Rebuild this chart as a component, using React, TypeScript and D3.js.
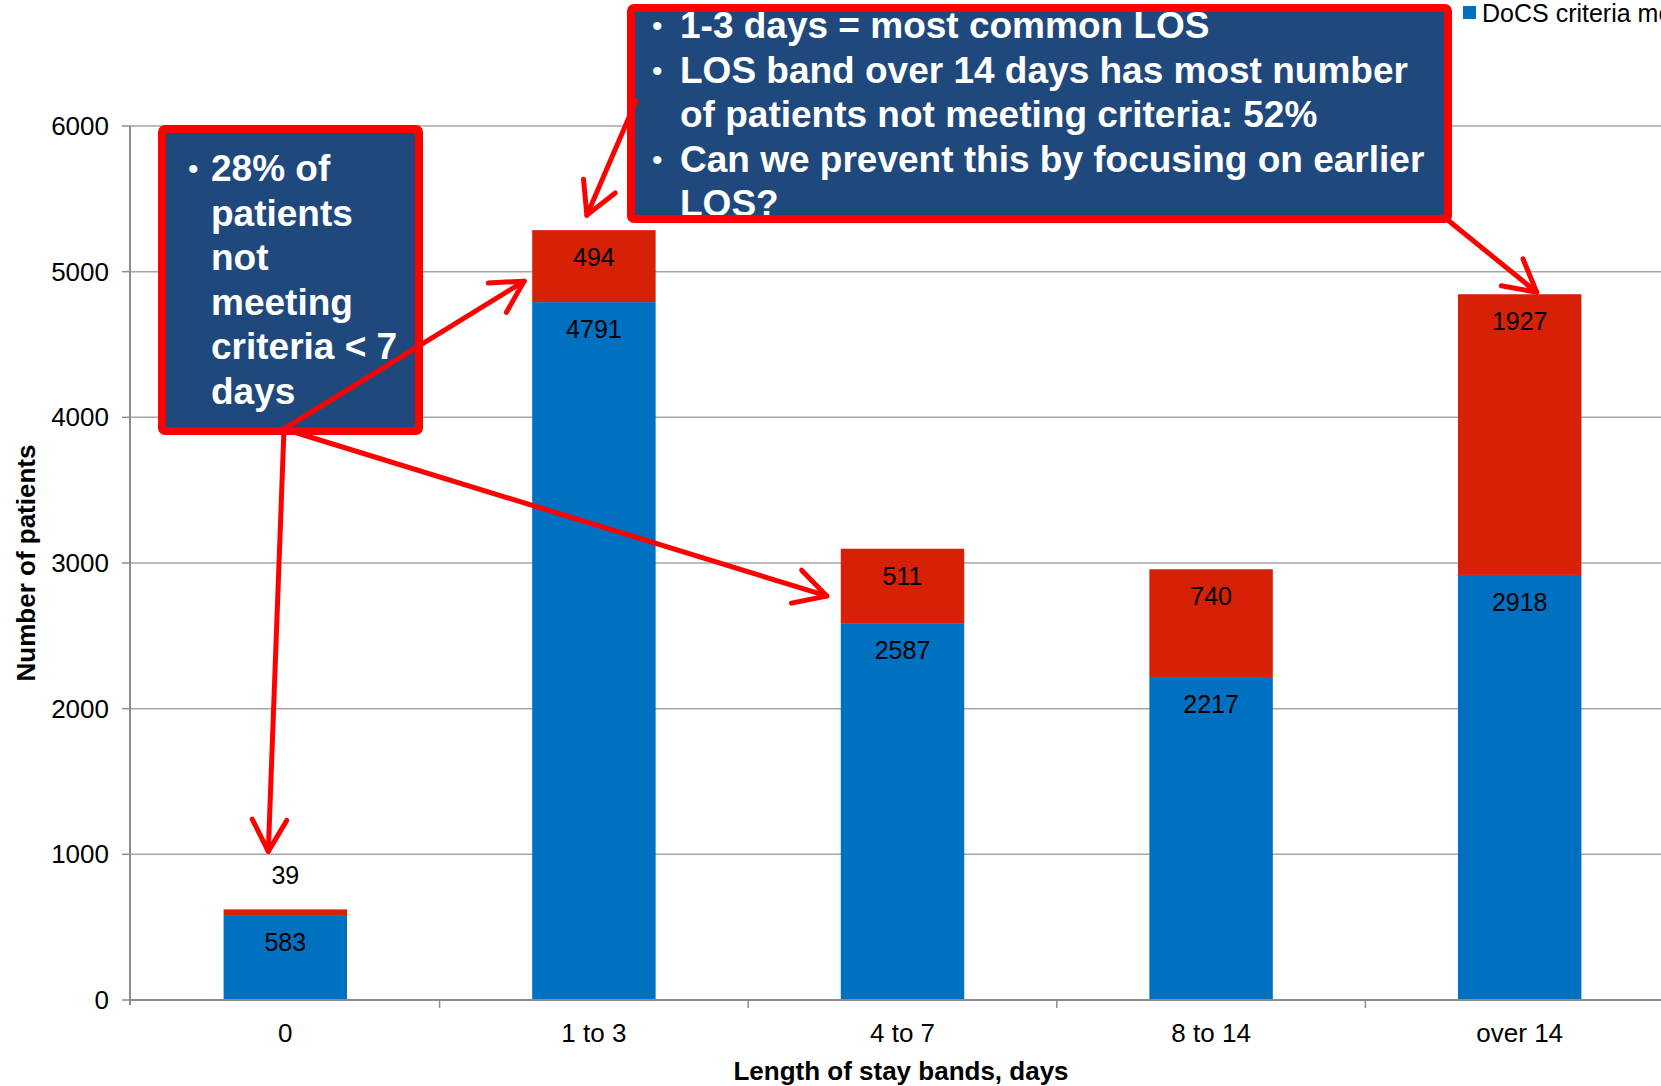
import React, { useEffect, useRef } from 'react';
import * as d3 from 'd3';

const categories = ['0', '1 to 3', '4 to 7', '8 to 14', 'over 14'];
const metValues = [583, 4791, 2587, 2217, 2918];
const notMetValues = [39, 494, 511, 740, 1927];
const yTicks = [0, 1000, 2000, 3000, 4000, 5000, 6000];
const seriesNames = ['DoCS criteria met', 'DoCS criteria not met'];

const leftNote = ['28% of', 'patients', 'not', 'meeting', 'criteria < 7', 'days'];
const topNote = [
  { bullet: true, text: '1-3 days = most common LOS' },
  { bullet: true, text: 'LOS band over 14 days has most number' },
  { bullet: false, text: 'of patients not meeting criteria: 52%' },
  { bullet: true, text: 'Can we prevent this by focusing on earlier' },
  { bullet: false, text: 'LOS?' },
];

const W = 1661;
const H = 1086;
const BLUE = '#0070C0';
const RED = '#D62106';
const NAVY = '#1F497D';
const ARROW = '#FF0000';
const FONT = 'Arial, "Liberation Sans", sans-serif';

const App: React.FC = () => {
  const svgRef = useRef<SVGSVGElement>(null);

  useEffect(() => {
    if (!svgRef.current) return;
    d3.select(svgRef.current).selectAll('*').remove();

    const svg = d3.select(svgRef.current).attr('width', W).attr('height', H);

    const x = d3.scaleBand<string>()
      .domain(categories)
      .range([131, 1674])
      .paddingInner(0.6)
      .paddingOuter(0.3);
    const y = d3.scaleLinear().domain([0, 6000]).range([1000, 126]);
    const step = x.step();
    const cx = (c: string) => x(c)! + x.bandwidth() / 2;

    // gridlines
    svg.append('g')
      .selectAll('line')
      .data(yTicks.slice(1))
      .enter()
      .append('line')
      .attr('x1', 130)
      .attr('x2', W)
      .attr('y1', d => y(d))
      .attr('y2', d => y(d))
      .attr('stroke', '#A6A6A6')
      .attr('stroke-width', 1.5);

    // bars
    const rows = categories.map((c, i) => ({ c, met: metValues[i], notMet: notMetValues[i] }));

    svg.append('g').selectAll('rect')
      .data(rows)
      .enter()
      .append('rect')
      .attr('x', d => x(d.c)!)
      .attr('width', x.bandwidth())
      .attr('y', d => y(d.met))
      .attr('height', d => y(0) - y(d.met))
      .attr('fill', BLUE);

    svg.append('g').selectAll('rect')
      .data(rows)
      .enter()
      .append('rect')
      .attr('x', d => x(d.c)!)
      .attr('width', x.bandwidth())
      .attr('y', d => y(d.met + d.notMet))
      .attr('height', d => y(d.met) - y(d.met + d.notMet))
      .attr('fill', RED);

    // value labels
    const lab = svg.append('g')
      .style('font-family', FONT)
      .style('font-size', '25px')
      .attr('fill', '#000')
      .attr('text-anchor', 'middle');

    lab.selectAll('.met')
      .data(rows)
      .enter()
      .append('text')
      .attr('x', d => cx(d.c))
      .attr('y', d => y(d.met) + 36)
      .text(d => d.met);

    lab.selectAll('.notmet')
      .data(rows)
      .enter()
      .append('text')
      .attr('x', d => cx(d.c))
      .attr('y', d => {
        const top = y(d.met + d.notMet);
        const h = y(d.met) - top;
        return h < 40 ? top - 25 : top + 36;
      })
      .text(d => d.notMet);

    // axes
    const axisColor = '#8C8C8C';
    svg.append('line')
      .attr('x1', 130).attr('x2', W)
      .attr('y1', y(0)).attr('y2', y(0))
      .attr('stroke', axisColor).attr('stroke-width', 2);
    svg.append('line')
      .attr('x1', 130).attr('x2', 130)
      .attr('y1', y(6000)).attr('y2', y(0) + 5)
      .attr('stroke', axisColor).attr('stroke-width', 2);

    svg.append('g').selectAll('line')
      .data(yTicks)
      .enter()
      .append('line')
      .attr('x1', 122).attr('x2', 130)
      .attr('y1', d => y(d)).attr('y2', d => y(d))
      .attr('stroke', axisColor).attr('stroke-width', 1.5);

    svg.append('g').selectAll('text')
      .data(yTicks)
      .enter()
      .append('text')
      .attr('x', 109)
      .attr('y', d => y(d) + 9)
      .attr('text-anchor', 'end')
      .style('font-family', FONT)
      .style('font-size', '26px')
      .text(d => d);

    svg.append('g').selectAll('line')
      .data(categories.slice(1))
      .enter()
      .append('line')
      .attr('x1', d => cx(d) - step / 2)
      .attr('x2', d => cx(d) - step / 2)
      .attr('y1', y(0))
      .attr('y2', y(0) + 8)
      .attr('stroke', axisColor).attr('stroke-width', 1.5);

    svg.append('g').selectAll('text')
      .data(categories)
      .enter()
      .append('text')
      .attr('x', d => cx(d))
      .attr('y', 1042)
      .attr('text-anchor', 'middle')
      .style('font-family', FONT)
      .style('font-size', '26px')
      .text(d => d);

    svg.append('text')
      .attr('x', 901)
      .attr('y', 1080)
      .attr('text-anchor', 'middle')
      .style('font-family', FONT)
      .style('font-size', '26px')
      .style('font-weight', 'bold')
      .text('Length of stay bands, days');

    svg.append('text')
      .attr('transform', 'translate(35,563) rotate(-90)')
      .attr('text-anchor', 'middle')
      .style('font-family', FONT)
      .style('font-size', '26px')
      .style('font-weight', 'bold')
      .text('Number of patients');

    // legend (cut at right edge)
    svg.append('rect')
      .attr('x', 1463).attr('y', 6).attr('width', 13).attr('height', 13)
      .attr('fill', BLUE);
    svg.append('text')
      .attr('x', 1482).attr('y', 22)
      .style('font-family', FONT)
      .style('font-size', '25px')
      .text(seriesNames[0]);

    // annotation boxes
    const box = (x0: number, y0: number, x1: number, y1: number) => {
      const g = svg.append('g');
      g.append('rect')
        .attr('x', x0).attr('y', y0)
        .attr('width', x1 - x0).attr('height', y1 - y0)
        .attr('fill', NAVY);
      return g;
    };
    const border = (g: any, x0: number, y0: number, x1: number, y1: number) => {
      g.append('rect')
        .attr('x', x0).attr('y', y0)
        .attr('width', x1 - x0).attr('height', y1 - y0)
        .attr('rx', 3)
        .attr('fill', 'none')
        .attr('stroke', ARROW)
        .attr('stroke-width', 8);
    };

    const g1 = box(162, 129, 419, 431);
    g1.append('text')
      .attr('x', 188).attr('y', 179)
      .attr('fill', '#fff')
      .style('font-family', FONT)
      .style('font-size', '30px')
      .text('•');
    g1.selectAll('.l')
      .data(leftNote)
      .enter()
      .append('text')
      .attr('x', 211)
      .attr('y', (_d, i) => 181 + i * 44.6)
      .attr('fill', '#fff')
      .style('font-family', FONT)
      .style('font-size', '37px')
      .style('font-weight', 'bold')
      .text(d => d);
    border(g1, 162, 129, 419, 431);

    const g2 = box(631, 8, 1448, 219);
    topNote.forEach((ln, i) => {
      const by = 38 + i * 44.5;
      if (ln.bullet) {
        g2.append('text')
          .attr('x', 652).attr('y', by - 2)
          .attr('fill', '#fff')
          .style('font-family', FONT)
          .style('font-size', '30px')
          .text('•');
      }
      g2.append('text')
        .attr('x', 680).attr('y', by)
        .attr('fill', '#fff')
        .style('font-family', FONT)
        .style('font-size', '37px')
        .style('font-weight', 'bold')
        .text(ln.text);
    });
    border(g2, 631, 8, 1448, 219);

    // arrows, end points anchored to the bars
    const top = (i: number) => y(metValues[i] + notMetValues[i]);
    const redMid = (i: number) => y(metValues[i] + notMetValues[i] / 2);
    const left = (i: number) => x(categories[i])!;
    const hub: [number, number] = [284, 429];
    const arrows: [[number, number], [number, number]][] = [
      [[636, 101], [cx(categories[1]) - 7, top(1) - 15]],
      [[1449, 221], [cx(categories[4]) + 17, top(4) - 2]],
      [hub, [left(1) - 8, redMid(1) + 15]],
      [hub, [left(2) - 14, redMid(2) + 10]],
      [hub, [cx(categories[0]) - 17, top(0) - 58]],
    ];

    const ag = svg.append('g')
      .attr('stroke', ARROW)
      .attr('stroke-width', 5)
      .attr('fill', 'none')
      .attr('stroke-linecap', 'round')
      .attr('stroke-linejoin', 'round');

    arrows.forEach(([s, e]) => {
      const ang = Math.atan2(e[1] - s[1], e[0] - s[0]);
      const len = 36;
      const spread = 0.5;
      const a1: [number, number] = [e[0] - len * Math.cos(ang - spread), e[1] - len * Math.sin(ang - spread)];
      const a2: [number, number] = [e[0] - len * Math.cos(ang + spread), e[1] - len * Math.sin(ang + spread)];
      ag.append('path').attr('d', d3.line()([s, e]));
      ag.append('path').attr('d', d3.line()([a1, e, a2]));
    });
  }, []);

  return (
    <div style={{ position: 'absolute', left: 0, top: 0, width: W, height: H, background: '#fff' }}>
      <svg ref={svgRef} style={{ display: 'block' }}></svg>
    </div>
  );
};

export default App;
